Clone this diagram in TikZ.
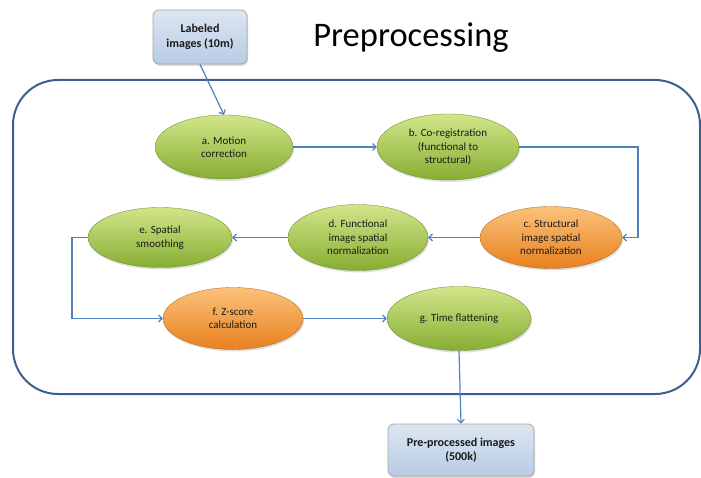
\documentclass[tikz,border=0pt]{standalone}
\usepackage{fontspec}
\setmainfont{Carlito}
\usetikzlibrary{shapes.geometric,arrows.meta,shadows}
\definecolor{frameblue}{HTML}{3A5F90}
\definecolor{linkblue}{HTML}{4F81BD}
\definecolor{gtop}{HTML}{D2E58A}
\definecolor{gbot}{HTML}{86AE32}
\definecolor{otop}{HTML}{FBC27A}
\definecolor{obot}{HTML}{E8801F}
\definecolor{btop}{HTML}{DCE6F2}
\definecolor{bbot}{HTML}{B8CCE4}
\definecolor{txt}{HTML}{1A1A1A}
\tikzset{
  x=1pt,y=-1pt,
  proc/.style={ellipse, inner sep=0pt, align=center, text=txt,
    font=\fontsize{11}{13.5}\selectfont,
    drop shadow={shadow xshift=1pt,shadow yshift=-2pt,opacity=0.25}},
  greenproc/.style={proc, top color=gtop, bottom color=gbot, draw=gbot!75!black, line width=0.3pt},
  orangeproc/.style={proc, top color=otop, bottom color=obot, draw=obot!75!black, line width=0.3pt},
  iobox/.style={rectangle, rounded corners=6pt, top color=btop, bottom color=bbot,
    draw=black!35, line width=0.8pt, align=center, text=txt,
    font=\bfseries\fontsize{12}{14.5}\selectfont,
    drop shadow={shadow xshift=1pt,shadow yshift=-2pt,opacity=0.3}},
  link/.style={draw=linkblue, line width=1.2pt,
    -{Straight Barb[length=3.5pt,width=7pt]}},
}
\begin{document}
\begin{tikzpicture}
\useasboundingbox (0,0) rectangle (701,478);
% frame
\draw[frameblue, line width=2pt, rounded corners=45pt] (13,80) rectangle (700,394);
% title
\node[font=\fontsize{34.5}{40}\selectfont, text=black, inner sep=0pt] (title) at (411,38) {Preprocessing};
% input / output boxes
\node[iobox, minimum width=94pt, minimum height=54pt] (lab) at (200,37) {Labeled\\images (10m)};
\node[iobox, minimum width=146pt, minimum height=52pt] (out) at (461,450) {Pre-processed images\\(500k)};
% processes
\node[greenproc, minimum width=138pt, minimum height=64pt] (a) at (224,147) {a. Motion\\correction};
\node[greenproc, minimum width=142pt, minimum height=66pt] (b) at (448,147) {b. Co-registration\\(functional to\\structural)};
\node[orangeproc, minimum width=142pt, minimum height=62pt] (c) at (551,237.5) {c. Structural\\image spatial\\normalization};
\node[greenproc, minimum width=140pt, minimum height=66pt] (d) at (358,237.5) {d. Functional\\image spatial\\normalization};
\node[greenproc, minimum width=144pt, minimum height=60pt] (e) at (160,237.5) {e. Spatial\\smoothing};
\node[orangeproc, minimum width=140pt, minimum height=62pt] (f) at (233,318.5) {f. Z-score\\calculation};
\node[greenproc, minimum width=144pt, minimum height=64pt] (g) at (459,318.5) {g. Time flattening};
% connector bends
\coordinate (bc) at (638,147);
\coordinate (ef) at (72,237.5);
% connectors
\draw[link] (lab.south) -- (a.north);
\draw[link] (a.east) -- (b.west);
\draw[link] (b.east) -- (bc) |- (c.east);
\draw[link] (c.west) -- (d.east);
\draw[link] (d.west) -- (e.east);
\draw[link] (e.west) -- (ef) |- (f.west);
\draw[link] (f.east) -- (g.west);
\draw[link] (g.south) -- (out.north);
\end{tikzpicture}
\end{document}
